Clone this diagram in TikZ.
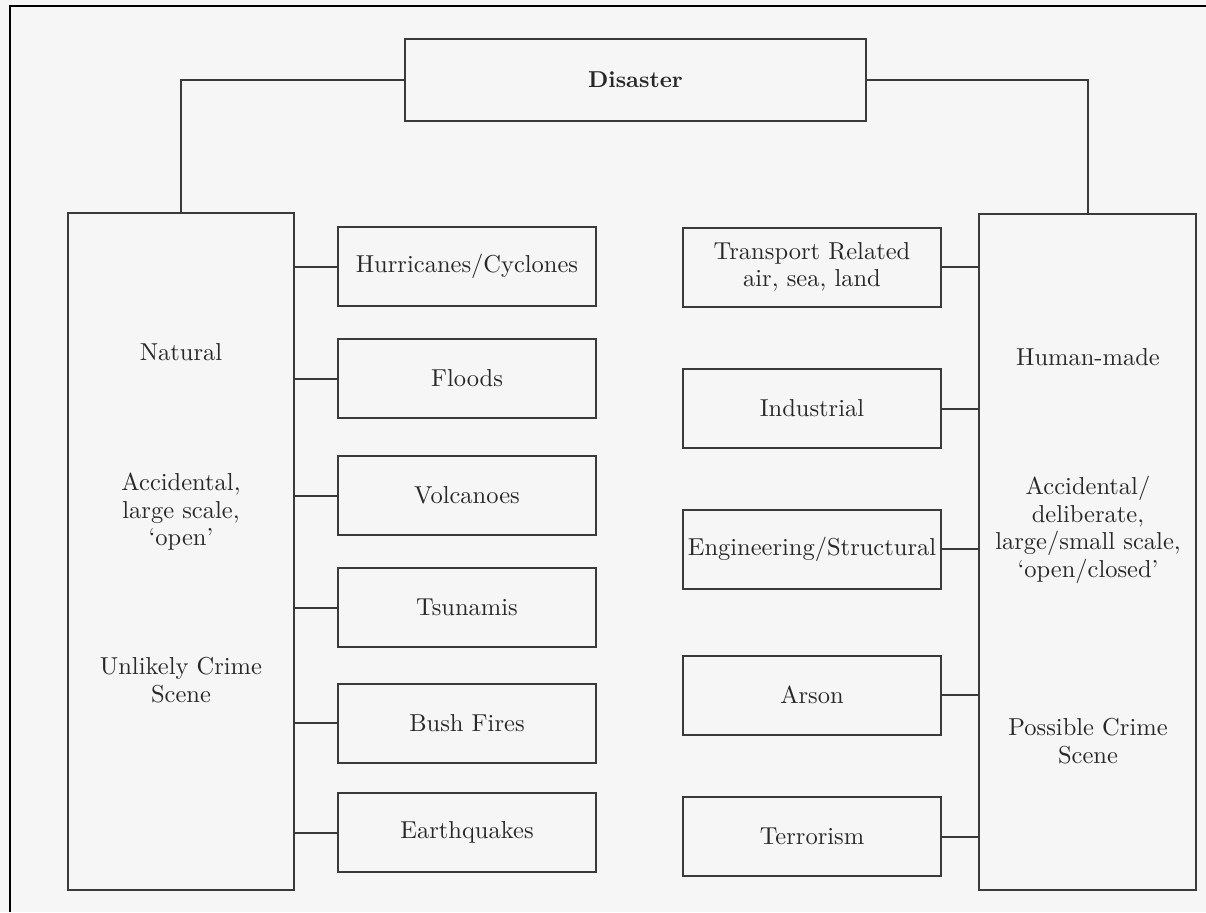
\documentclass[tikz,border=0pt]{standalone}
\usepackage{fontspec}
% text face: the 10pt design of Latin Modern, scaled up
\setmainfont{lmroman10}[Extension=.otf, UprightFont=*-regular, BoldFont=*-bold,
  ItalicFont=*-italic, BoldItalicFont=*-bolditalic]
\definecolor{paper}{RGB}{246,246,246}
\definecolor{ink}{RGB}{40,40,40}
\definecolor{rule}{RGB}{58,58,58}
\tikzset{
  x=1pt, y=-1pt,
  every node/.style={inner sep=0pt, outer sep=0pt},
  catbox/.style={draw=rule, line width=2pt},
  leafbox/.style={draw=rule, line width=2pt, minimum width=258pt, minimum height=79pt,
    align=center, text=ink, font=\fontsize{24.5}{27.5}\selectfont},
  boxlabel/.style={align=center, text=ink, font=\fontsize{24.5}{27.5}\selectfont},
  link/.style={draw=rule, line width=2pt},
}
\begin{document}
\begin{tikzpicture}
  % page and frame
  \fill[paper] (0,0) rectangle (1206,912);
  \useasboundingbox (0,0) rectangle (1206,912);
  \draw[black, line width=2.6pt] (10,912) -- (10,6) -- (1206,6);

  % root
  \node[catbox, minimum width=461pt, minimum height=82pt, text=ink,
        font=\fontsize{23}{27}\selectfont\bfseries] (dis) at (635.5,80) {Disaster};

  % main categories
  \node[catbox, minimum width=226pt, minimum height=677pt] (nat) at (181,551.5) {};
  \node[catbox, minimum width=217pt, minimum height=676pt] (hum) at (1087.5,552) {};

  \node[boxlabel] (natA) at (181,352) {Natural};
  \node[boxlabel] (natB) at (181,512) {Accidental,\\large scale,\\`open'};
  \node[boxlabel] (natC) at (181,680) {Unlikely Crime\\Scene};

  \node[boxlabel] (humA) at (1088,357) {Human-made};
  \node[boxlabel] (humB) at (1088,530) {Accidental/\\deliberate,\\large/small scale,\\`open/closed'};
  \node[boxlabel] (humC) at (1088,741) {Possible Crime\\Scene};

  % natural disasters
  \node[leafbox] (hur) at (467,266.5) {Hurricanes/Cyclones};
  \node[leafbox] (flo) at (467,378.5) {Floods};
  \node[leafbox] (vol) at (467,495.5) {Volcanoes};
  \node[leafbox] (tsu) at (467,607.5) {Tsunamis};
  \node[leafbox] (bus) at (467,723)   {Bush Fires};
  \node[leafbox] (ear) at (467,832.5) {Earthquakes};

  % human-made disasters
  \node[leafbox] (tra) at (812,267)   {Transport Related\\air, sea, land};
  \node[leafbox] (ind) at (812,408.5) {Industrial};
  \node[leafbox] (eng) at (812,549)   {Engineering/Structural};
  \node[leafbox] (ars) at (812,695)   {Arson};
  \node[leafbox] (ter) at (812,836.5) {Terrorism};

  % connectors
  \draw[link] (dis.west) -| (nat.north);
  \draw[link] (dis.east) -| (hum.north);
  \foreach \n in {hur,flo,vol,tsu,bus,ear}
    \draw[link] (\n.west) -- (\n.west -| nat.east);
  \foreach \n in {tra,ind,eng,ars,ter}
    \draw[link] (\n.east) -- (\n.east -| hum.west);
\end{tikzpicture}
\end{document}
